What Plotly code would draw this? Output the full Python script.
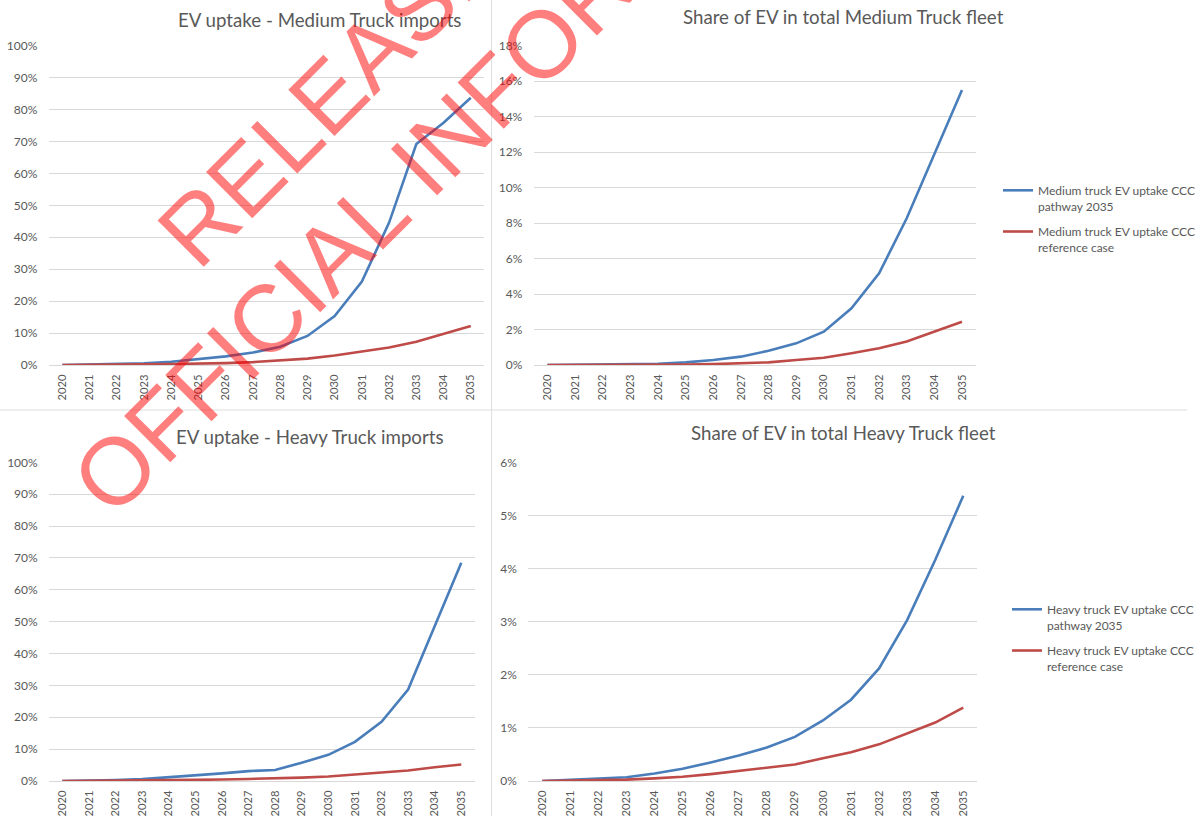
import plotly.graph_objects as go

# ---------------- data (values in percent) ----------------
years = ["2020", "2021", "2022", "2023", "2024", "2025", "2026", "2027",
         "2028", "2029", "2030", "2031", "2032", "2033", "2034", "2035"]

med_imports_pathway = [0, 0.1, 0.3, 0.5, 1.0, 1.8, 2.7, 3.9, 5.7, 9.1, 15.3, 26.1, 44.6, 69.2, 75.9, 83.7]
med_imports_reference = [0, 0, 0.1, 0.2, 0.3, 0.4, 0.6, 0.9, 1.4, 2.0, 3.0, 4.2, 5.5, 7.3, 9.7, 12.2]

med_fleet_pathway = [0, 0.01, 0.02, 0.04, 0.07, 0.15, 0.28, 0.47, 0.8, 1.22, 1.88, 3.2, 5.17, 8.27, 11.9, 15.5]
med_fleet_reference = [0, 0, 0, 0.01, 0.02, 0.03, 0.05, 0.09, 0.15, 0.28, 0.41, 0.66, 0.94, 1.32, 1.88, 2.44]

heavy_imports_pathway = [0, 0.1, 0.3, 0.6, 1.15, 1.8, 2.4, 3.1, 3.45, 5.75, 8.2, 12.3, 18.6, 28.7, 48.4, 68.5]
heavy_imports_reference = [0, 0.05, 0.1, 0.15, 0.25, 0.35, 0.45, 0.65, 0.75, 1.05, 1.4, 2.0, 2.6, 3.3, 4.3, 5.2]

heavy_fleet_pathway = [0, 0.02, 0.04, 0.07, 0.14, 0.23, 0.35, 0.48, 0.63, 0.83, 1.14, 1.53, 2.12, 3.03, 4.16, 5.37]
heavy_fleet_reference = [0, 0.01, 0.015, 0.025, 0.05, 0.08, 0.13, 0.19, 0.24, 0.31, 0.43, 0.54, 0.69, 0.90, 1.10, 1.38]

titles = ["EV uptake - Medium Truck imports", "Share of EV in total Medium Truck fleet",
          "EV uptake - Heavy Truck imports", "Share of EV in total Heavy Truck fleet"]
med_names = ["Medium truck EV uptake CCC<br>pathway 2035", "Medium truck EV uptake CCC<br>reference case"]
heavy_names = ["Heavy truck EV uptake CCC<br>pathway 2035", "Heavy truck EV uptake CCC<br>reference case"]
watermark_lines = ["RELEASED UNDER THE", "OFFICIAL INFORMATION ACT"]

# ---------------- styling ----------------
W, H = 1200, 816
BLUE = "#4A7EBB"
RED = "#BE4B48"
GRID = "#D9D9D9"
TXT = "#595959"
FONT = "Lato, Carlito, Calibri, sans-serif"
LW = 2.6

fig = go.Figure()

def add_pair(xa, ya, pathway, reference, names, legend, show, grp):
    fig.add_trace(go.Scatter(x=years, y=pathway, mode="lines", name=names[0],
                             line=dict(color=BLUE, width=LW), xaxis=xa, yaxis=ya,
                             showlegend=show, legend=legend, legendgroup=grp + "a"))
    fig.add_trace(go.Scatter(x=years, y=reference, mode="lines", name=names[1],
                             line=dict(color=RED, width=LW), xaxis=xa, yaxis=ya,
                             showlegend=show, legend=legend, legendgroup=grp + "b"))

add_pair("x", "y", med_imports_pathway, med_imports_reference, med_names, "legend", False, "m0")
add_pair("x2", "y2", med_fleet_pathway, med_fleet_reference, med_names, "legend", True, "m")
add_pair("x3", "y3", heavy_imports_pathway, heavy_imports_reference, heavy_names, "legend2", False, "h0")
add_pair("x4", "y4", heavy_fleet_pathway, heavy_fleet_reference, heavy_names, "legend2", True, "h")

def px_x(p):
    return p / W

def px_y(p):
    return 1 - p / H

top_dom = [px_y(365), px_y(45.7)]
bot_dom = [px_y(781), px_y(462.3)]

def xaxis(dom, anchor):
    return dict(domain=dom, anchor=anchor, type="category", range=[-0.5, 15.5],
                tickangle=-90, showgrid=False, showline=False, zeroline=False,
                ticks="outside", ticklen=4, tickcolor="rgba(0,0,0,0)", automargin=False,
                tickfont=dict(family=FONT, size=11.2, color=TXT), fixedrange=True)

def yaxis(dom, anchor, top, step):
    return dict(domain=dom, anchor=anchor, range=[0, top], dtick=step, tick0=0,
                ticksuffix="%", showgrid=True, gridcolor=GRID, gridwidth=1,
                zeroline=True, zerolinecolor=GRID, zerolinewidth=1, showline=False,
                ticks="outside", ticklen=8, tickcolor="rgba(0,0,0,0)", automargin=False,
                tickfont=dict(family=FONT, size=12, color=TXT), fixedrange=True)

fig.update_layout(
    xaxis=xaxis([px_x(49.3), px_x(489.7)], "y"),
    yaxis=yaxis(top_dom, "x", 100, 10),
    xaxis2=xaxis([px_x(539.5), px_x(986.5)], "y2"),
    yaxis2=yaxis(top_dom, "x2", 18, 2),
    xaxis3=xaxis([px_x(49.6), px_x(479.8)], "y3"),
    yaxis3=yaxis(bot_dom, "x3", 100, 10),
    xaxis4=xaxis([px_x(534), px_x(988)], "y4"),
    yaxis4=yaxis(bot_dom, "x4", 6, 1),
)

# titles
title_pos = [(323, 20), (853, 17), (313, 437), (853, 433)]
for t, (tx, ty) in zip(titles, title_pos):
    fig.add_annotation(text=t, x=px_x(tx), y=px_y(ty), xref="paper", yref="paper",
                       xanchor="center", yanchor="middle", showarrow=False,
                       font=dict(family=FONT, size=18.7, color=TXT))

# panel dividers
fig.add_shape(type="line", xref="paper", yref="paper", x0=0, x1=1,
              y0=px_y(410), y1=px_y(410), line=dict(color="#DDDDDD", width=1))
fig.add_shape(type="line", xref="paper", yref="paper", x0=px_x(497), x1=px_x(497),
              y0=0, y1=1, line=dict(color="#DDDDDD", width=1))

# watermark
wm_pos = [(565, -135), (562, 30)]
for t, (wx, wy) in zip(watermark_lines, wm_pos):
    fig.add_annotation(text=t, x=px_x(wx), y=px_y(wy), xref="paper", yref="paper",
                       xanchor="center", yanchor="middle", showarrow=False, textangle=-45,
                       font=dict(family="Liberation Sans, Arial, sans-serif", size=95,
                                 color="rgba(255,0,0,0.5)"))

legend_common = dict(xanchor="left", yanchor="top", valign="top", itemwidth=30,
                     bgcolor="rgba(0,0,0,0)", borderwidth=0, tracegroupgap=7,
                     font=dict(family=FONT, size=12, color=TXT))
fig.update_layout(
    legend=dict(x=px_x(1009), y=px_y(176), **legend_common),
    legend2=dict(x=px_x(1018), y=px_y(595), **legend_common),
    width=W, height=H, autosize=False,
    margin=dict(l=0, r=0, t=0, b=0),
    paper_bgcolor="white", plot_bgcolor="white",
)

fig.write_html("out.html")
